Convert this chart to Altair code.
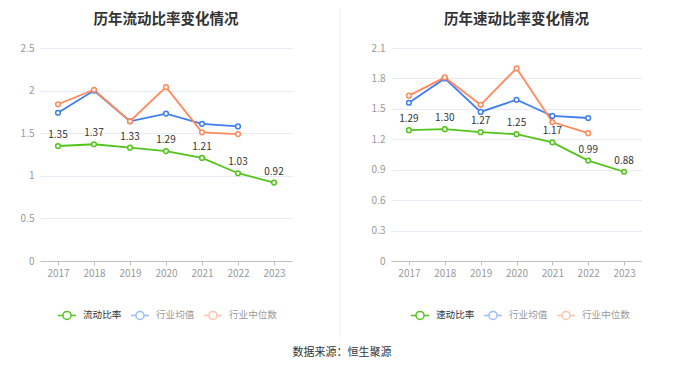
import altair as alt
import pandas as pd

years = ["2017", "2018", "2019", "2020", "2021", "2022", "2023"]

current_ratio = [1.35, 1.37, 1.33, 1.29, 1.21, 1.03, 0.92]
current_industry_mean = [1.74, 2.00, 1.64, 1.73, 1.61, 1.58, None]
current_industry_median = [1.84, 2.01, 1.64, 2.04, 1.51, 1.49, None]

quick_ratio = [1.29, 1.30, 1.27, 1.25, 1.17, 0.99, 0.88]
quick_industry_mean = [1.56, 1.80, 1.47, 1.59, 1.43, 1.41, None]
quick_industry_median = [1.63, 1.81, 1.54, 1.90, 1.37, 1.26, None]

left_names = ["流动比率", "行业均值", "行业中位数"]
right_names = ["速动比率", "行业均值", "行业中位数"]
left_ticks = [0, 0.5, 1, 1.5, 2, 2.5]
right_ticks = [0, 0.3, 0.6, 0.9, 1.2, 1.5, 1.8, 2.1]
colors = ["#52c41a", "#3e7ef0", "#ff8a5b"]

FONT = "Noto Sans CJK SC"
SYMBOL = ("M-1,0L-0.45,0M0.45,0L1,0M-0.45,0A0.45,0.45,0,1,1,0.45,0"
          "A0.45,0.45,0,1,1,-0.45,0")


def panel(title, names, series, ticks, legend_x, width):
    rows = []
    for n, vals in zip(names, series):
        for yr, v in zip(years, vals):
            if v is not None:
                rows.append({"year": yr, "series": n, "value": v, "label": f"{v:.2f}"})
    df = pd.DataFrame(rows)

    x = alt.X("year:N", sort=years, title=None,
              axis=alt.Axis(labelAngle=0, labelFontSize=10, labelColor="#999999",
                            labelFont=FONT, domainColor="#c0c0c0", domainWidth=1,
                            tickColor="#c0c0c0", tickSize=4, labelPadding=3, grid=False))
    y = alt.Y("value:Q", title=None,
              scale=alt.Scale(domain=[ticks[0], ticks[-1]], nice=False, zero=True),
              axis=alt.Axis(values=ticks, format="~g", labelFontSize=10,
                            labelColor="#999999", labelFont=FONT, domain=False,
                            ticks=False, labelPadding=6, gridColor="#e6ebf5"))
    first = names[0]
    color = alt.Color(
        "series:N", sort=names,
        scale=alt.Scale(domain=names, range=colors),
        legend=alt.Legend(
            title=None, orient="none", direction="horizontal",
            legendX=legend_x, legendY=257, padding=0,
            columnPadding=6, labelOffset=6,
            symbolType=SYMBOL, symbolSize=324, symbolStrokeWidth=1.5,
            symbolFillColor="white",
            symbolOpacity={"expr": f"datum.value == '{first}' ? 1 : 0.5"},
            labelColor={"expr": f"datum.value == '{first}' ? '#333333' : '#9a9a9a'"},
            labelFontSize=9.6, labelFont=FONT,
        ),
    )
    base = alt.Chart(df)
    lines = base.mark_line(strokeWidth=1.8).encode(x=x, y=y, color=color)
    points = base.mark_point(shape="circle", size=22, filled=False, fill="white",
                             fillOpacity=1, strokeWidth=1.5).encode(x=x, y=y, color=color)
    text = base.transform_filter(alt.datum.series == first).mark_text(
        dy=-11, fontSize=10, color="#333333", font=FONT
    ).encode(x=x, y=y, text="label:N")
    return alt.layer(lines, points, text).properties(
        width=width, height=213,
        title=alt.TitleParams(title, fontSize=14.5, fontWeight="bold", color="#333333",
                              font=FONT, anchor="middle", offset=16),
    )


left = panel("历年流动比率变化情况", left_names,
             [current_ratio, current_industry_mean, current_industry_median],
             left_ticks, 17, 252)
right = panel("历年速动比率变化情况", right_names,
              [quick_ratio, quick_industry_mean, quick_industry_median],
              right_ticks, 19, 251)

separator = alt.Chart(pd.DataFrame({"s": [0]})).mark_rule(
    color="#eeeeee", strokeWidth=1
).encode(x=alt.value(48), y=alt.value(-39), y2=alt.value(289)).properties(
    width=79, height=213
)

chart = alt.hconcat(left, separator, right, spacing=0).resolve_scale(
    color="independent", y="independent"
).resolve_legend(color="independent").properties(
    padding={"left": 12, "top": 0, "right": 0, "bottom": 0},
    title=alt.TitleParams("数据来源：恒生聚源", orient="bottom", anchor="middle",
                          fontSize=11, fontWeight="normal", color="#333333",
                          font=FONT, offset=9, dx=11),
).configure(font=FONT).configure_view(strokeWidth=0, stroke="transparent")

chart.save("out.html", embed_options={"renderer": "svg", "actions": False})
